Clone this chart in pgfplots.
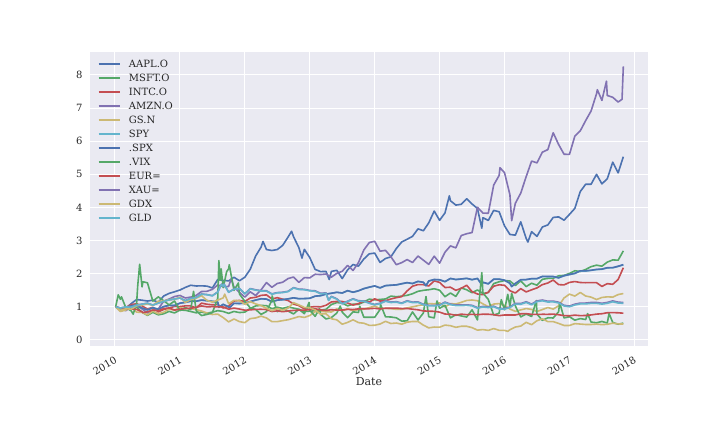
\documentclass[border=0pt]{standalone}
\usepackage{fontspec}
\setmainfont{DejaVu Serif}
\usepackage{pgfplots}
\pgfplotsset{compat=1.18}
\definecolor{cA}{HTML}{4C72B0}
\definecolor{cB}{HTML}{55A868}
\definecolor{cC}{HTML}{C44E52}
\definecolor{cD}{HTML}{8172B2}
\definecolor{cE}{HTML}{CCB974}
\definecolor{cF}{HTML}{64B5CD}
\definecolor{axbg}{HTML}{EAEAF2}
\definecolor{txt}{HTML}{262626}
\begin{document}
\begin{tikzpicture}
\path (0,0) rectangle (720bp,432bp);
\begin{axis}[
  at={(90bp,86.4bp)}, anchor=south west,
  scale only axis, width=558bp, height=293.76bp,
  xmin=2009.615, xmax=2018.21, ymin=-0.17, ymax=8.695,
  axis background/.style={fill=axbg},
  axis line style={draw=none},
  major tick length=0pt,
  grid=major, major grid style={white, line width=1bp},
  xtick={2010,2011,2012,2013,2014,2015,2016,2017,2018},
  xticklabels={2010,2011,2012,2013,2014,2015,2016,2017,2018},
  ytick={0,1,2,3,4,5,6,7,8},
  /pgf/number format/assume math mode=true,
  ticklabel style={font=\fontsize{10bp}{12bp}\selectfont, text=txt},
  xticklabel style={rotate=30, anchor=north east, inner sep=0pt, yshift=-8.4bp, xshift=-6bp},
  yticklabel style={anchor=east, inner sep=0pt, xshift=-7.3bp},
  xlabel={Date},
  xlabel style={font=\fontsize{11bp}{13bp}\selectfont, text=txt, at={(axis description cs:0.5,0)}, anchor=center, yshift=-36.4bp},
  every axis plot/.append style={line width=1.6bp, line join=round},
  legend cell align=left,
  legend style={draw=none, fill=none, at={(0,1)}, anchor=north west, xshift=7.7bp, yshift=-7.35bp,
    font=\fontsize{10bp}{12bp}\selectfont, text=txt, inner sep=0pt, row sep=4.7bp, column sep=8.5bp,
    nodes={inner sep=0pt, text height=8.3bp, text depth=1bp}},
  legend image code/.code={\draw[#1] (0bp,0bp) -- (21bp,0bp);},
]
% AAPL.O
\addplot[cA] coordinates {(2010.01,1.000)(2010.083,0.898)(2010.167,0.956)(2010.25,1.098)(2010.333,1.220)(2010.417,1.200)(2010.5,1.175)(2010.583,1.202)(2010.667,1.136)(2010.75,1.326)(2010.833,1.406)(2010.917,1.454)(2011.0,1.507)
(2011.083,1.586)(2011.167,1.651)(2011.25,1.629)(2011.333,1.633)(2011.417,1.625)(2011.5,1.569)(2011.583,1.825)(2011.667,1.799)(2011.75,1.782)(2011.833,1.892)(2011.917,1.786)(2012.0,1.893)
(2012.083,2.133)(2012.167,2.535)(2012.25,2.802)(2012.28,2.973)(2012.333,2.729)(2012.417,2.700)(2012.5,2.729)(2012.583,2.854)(2012.667,3.109)(2012.72,3.281)(2012.75,3.117)(2012.833,2.782)(2012.88,2.47)(2012.917,2.735)(2013.0,2.487)
(2013.083,2.129)(2013.167,2.063)(2013.25,2.069)(2013.30,1.825)(2013.333,2.069)(2013.417,2.102)(2013.5,1.853)(2013.583,2.115)(2013.667,2.277)(2013.75,2.228)(2013.833,2.443)(2013.917,2.599)(2014.0,2.622)
(2014.083,2.339)(2014.167,2.459)(2014.25,2.508)(2014.333,2.758)(2014.417,2.958)(2014.5,3.040)(2014.583,3.127)(2014.667,3.353)(2014.75,3.296)(2014.833,3.533)(2014.917,3.890)(2015.0,3.611)
(2015.083,3.833)(2015.15,4.351)(2015.167,4.202)(2015.25,4.070)(2015.333,4.094)(2015.417,4.262)(2015.5,4.103)(2015.583,3.968)(2015.65,3.373)(2015.667,3.689)(2015.75,3.608)(2015.833,3.909)(2015.917,3.870)(2016.0,3.443)
(2016.083,3.184)(2016.167,3.163)(2016.25,3.565)(2016.333,3.066)(2016.36,2.955)(2016.417,3.267)(2016.5,3.127)(2016.583,3.409)(2016.667,3.471)(2016.75,3.698)(2016.833,3.714)(2016.917,3.615)(2017.0,3.789)
(2017.083,3.970)(2017.167,4.481)(2017.25,4.699)(2017.333,4.699)(2017.417,4.997)(2017.5,4.711)(2017.583,4.865)(2017.667,5.365)(2017.75,5.042)(2017.83,5.530)};
\addlegendentry{AAPL.O}
% MSFT.O
\addplot[cB] coordinates {(2010.01,1.000)(2010.083,0.911)(2010.167,0.926)(2010.25,0.946)(2010.333,0.987)(2010.417,0.834)(2010.5,0.743)(2010.583,0.834)(2010.667,0.758)(2010.75,0.791)(2010.833,0.862)(2010.917,0.816)(2011.0,0.902)
(2011.083,0.896)(2011.167,0.859)(2011.25,0.820)(2011.333,0.840)(2011.417,0.808)(2011.5,0.840)(2011.583,0.885)(2011.667,0.859)(2011.75,0.804)(2011.833,0.860)(2011.917,0.827)(2012.0,0.839)
(2012.083,0.954)(2012.167,1.026)(2012.25,1.042)(2012.333,1.035)(2012.417,0.943)(2012.5,0.988)(2012.583,0.952)(2012.667,0.996)(2012.75,0.962)(2012.833,0.922)(2012.917,0.860)(2013.0,0.863)
(2013.083,0.887)(2013.167,0.898)(2013.25,0.924)(2013.333,1.069)(2013.417,1.128)(2013.5,1.116)(2013.583,1.029)(2013.667,1.079)(2013.75,1.075)(2013.833,1.144)(2013.917,1.232)(2014.0,1.209)
(2014.083,1.223)(2014.167,1.238)(2014.25,1.324)(2014.333,1.305)(2014.417,1.323)(2014.5,1.347)(2014.583,1.395)(2014.667,1.468)(2014.75,1.498)(2014.833,1.517)(2014.917,1.545)(2015.0,1.501)
(2015.083,1.305)(2015.167,1.417)(2015.25,1.314)(2015.333,1.572)(2015.417,1.514)(2015.5,1.426)(2015.583,1.509)(2015.667,1.406)(2015.75,1.430)(2015.833,1.701)(2015.917,1.756)(2016.0,1.793)
(2016.083,1.780)(2016.167,1.644)(2016.25,1.785)(2016.333,1.611)(2016.417,1.712)(2016.5,1.653)(2016.583,1.831)(2016.667,1.857)(2016.75,1.861)(2016.833,1.936)(2016.917,1.947)(2017.0,2.008)
(2017.083,2.089)(2017.167,2.067)(2017.25,2.128)(2017.333,2.212)(2017.417,2.257)(2017.5,2.227)(2017.583,2.349)(2017.667,2.416)(2017.75,2.407)(2017.83,2.688)};
\addlegendentry{MSFT.O}
% INTC.O
\addplot[cC] coordinates {(2010.01,1.000)(2010.083,0.929)(2010.167,0.983)(2010.25,1.068)(2010.333,1.093)(2010.417,1.026)(2010.5,0.932)(2010.583,0.987)(2010.667,0.846)(2010.75,0.920)(2010.833,0.961)(2010.917,1.014)(2011.0,1.007)
(2011.083,1.028)(2011.167,1.028)(2011.25,0.966)(2011.333,1.111)(2011.417,1.078)(2011.5,1.061)(2011.583,1.069)(2011.667,0.964)(2011.75,1.022)(2011.833,1.175)(2011.917,1.193)(2012.0,1.161)
(2012.083,1.265)(2012.167,1.287)(2012.25,1.346)(2012.333,1.360)(2012.417,1.238)(2012.5,1.276)(2012.583,1.231)(2012.667,1.190)(2012.75,1.085)(2012.833,1.035)(2012.917,0.937)(2013.0,0.988)
(2013.083,1.008)(2013.167,0.999)(2013.25,1.046)(2013.333,1.147)(2013.417,1.163)(2013.5,1.160)(2013.583,1.116)(2013.667,1.053)(2013.75,1.098)(2013.833,1.170)(2013.917,1.141)(2014.0,1.243)
(2014.083,1.175)(2014.167,1.186)(2014.25,1.236)(2014.333,1.278)(2014.417,1.308)(2014.5,1.480)(2014.583,1.623)(2014.667,1.672)(2014.75,1.668)(2014.833,1.629)(2014.917,1.784)(2015.0,1.738)
(2015.083,1.582)(2015.167,1.592)(2015.25,1.498)(2015.333,1.559)(2015.417,1.651)(2015.5,1.457)(2015.583,1.387)(2015.667,1.367)(2015.75,1.443)(2015.833,1.622)(2015.917,1.665)(2016.0,1.650)
(2016.083,1.486)(2016.167,1.417)(2016.25,1.549)(2016.333,1.450)(2016.417,1.513)(2016.5,1.571)(2016.583,1.670)(2016.667,1.719)(2016.75,1.808)(2016.833,1.670)(2016.917,1.662)(2017.0,1.737)
(2017.083,1.763)(2017.167,1.734)(2017.25,1.728)(2017.333,1.731)(2017.417,1.729)(2017.5,1.616)(2017.583,1.699)(2017.667,1.680)(2017.75,1.824)(2017.83,2.179)};
\addlegendentry{INTC.O}
% AMZN.O
\addplot[cD] coordinates {(2010.01,1.000)(2010.083,0.937)(2010.167,0.884)(2010.25,1.014)(2010.333,1.024)(2010.417,0.937)(2010.5,0.816)(2010.583,0.880)(2010.667,0.932)(2010.75,1.173)(2010.833,1.234)(2010.917,1.310)(2011.0,1.344)
(2011.083,1.267)(2011.167,1.294)(2011.25,1.345)(2011.333,1.462)(2011.417,1.469)(2011.5,1.527)(2011.583,1.662)(2011.667,1.607)(2011.75,1.615)(2011.79,1.842)(2011.833,1.595)(2011.917,1.436)(2012.0,1.293)
(2012.083,1.452)(2012.167,1.342)(2012.25,1.512)(2012.333,1.732)(2012.417,1.590)(2012.5,1.705)(2012.583,1.742)(2012.667,1.854)(2012.75,1.899)(2012.833,1.739)(2012.917,1.882)(2013.0,1.874)
(2013.083,1.983)(2013.167,1.974)(2013.25,1.990)(2013.333,1.896)(2013.417,2.010)(2013.5,2.074)(2013.583,2.250)(2013.667,2.098)(2013.75,2.335)(2013.833,2.715)(2013.917,2.940)(2014.0,2.978)
(2014.083,2.679)(2014.167,2.704)(2014.25,2.512)(2014.333,2.271)(2014.417,2.334)(2014.5,2.426)(2014.583,2.337)(2014.667,2.532)(2014.75,2.408)(2014.833,2.281)(2014.917,2.529)(2015.0,2.318)
(2015.083,2.648)(2015.167,2.839)(2015.25,2.779)(2015.333,3.150)(2015.417,3.206)(2015.5,3.242)(2015.583,4.004)(2015.667,3.830)(2015.75,3.823)(2015.833,4.674)(2015.917,4.965)(2015.93,5.198)(2016.0,5.048)
(2016.083,4.384)(2016.11,3.600)(2016.167,4.126)(2016.25,4.433)(2016.333,4.926)(2016.417,5.398)(2016.5,5.344)(2016.583,5.667)(2016.667,5.744)(2016.75,6.253)(2016.833,5.899)(2016.917,5.605)(2017.0,5.600)
(2017.083,6.150)(2017.167,6.311)(2017.25,6.621)(2017.333,6.908)(2017.417,7.428)(2017.43,7.551)(2017.5,7.229)(2017.57,7.81)(2017.583,7.377)(2017.667,7.323)(2017.75,7.180)(2017.81,7.262)(2017.83,8.254)};
\addlegendentry{AMZN.O}
% GS.N
\addplot[cE] coordinates {(2010.01,1.000)(2010.083,0.859)(2010.167,0.903)(2010.25,0.986)(2010.333,0.839)(2010.417,0.834)(2010.5,0.758)(2010.583,0.871)(2010.667,0.791)(2010.75,0.835)(2010.833,0.930)(2010.917,0.901)(2011.0,0.972)
(2011.083,0.945)(2011.167,0.946)(2011.25,0.916)(2011.333,0.873)(2011.417,0.813)(2011.5,0.769)(2011.583,0.780)(2011.667,0.674)(2011.75,0.546)(2011.833,0.633)(2011.917,0.554)(2012.0,0.522)
(2012.083,0.644)(2012.167,0.665)(2012.25,0.719)(2012.333,0.665)(2012.417,0.554)(2012.5,0.554)(2012.583,0.583)(2012.667,0.611)(2012.75,0.657)(2012.833,0.707)(2012.917,0.681)(2013.0,0.737)
(2013.083,0.854)(2013.167,0.866)(2013.25,0.850)(2013.333,0.844)(2013.417,0.937)(2013.5,0.874)(2013.583,0.948)(2013.667,0.879)(2013.75,0.914)(2013.833,0.929)(2013.917,0.976)(2014.0,1.024)
(2014.083,0.948)(2014.167,0.954)(2014.25,0.947)(2014.333,0.923)(2014.417,0.924)(2014.5,0.967)(2014.583,0.999)(2014.667,1.035)(2014.75,1.061)(2014.833,1.098)(2014.917,1.089)(2015.0,1.120)
(2015.083,0.996)(2015.167,1.096)(2015.25,1.086)(2015.333,1.135)(2015.417,1.192)(2015.5,1.206)(2015.583,1.185)(2015.667,1.090)(2015.75,1.004)(2015.833,1.083)(2015.917,1.098)(2016.0,1.041)
(2016.083,0.933)(2016.167,0.864)(2016.25,0.907)(2016.333,0.948)(2016.417,0.923)(2016.5,0.858)(2016.583,0.918)(2016.667,0.979)(2016.75,0.932)(2016.833,1.030)(2016.917,1.267)(2017.0,1.383)
(2017.083,1.325)(2017.167,1.433)(2017.25,1.327)(2017.333,1.293)(2017.417,1.220)(2017.5,1.282)(2017.583,1.302)(2017.667,1.293)(2017.75,1.370)(2017.83,1.401)};
\addlegendentry{GS.N}
% SPY
\addplot[cF] coordinates {(2010.01,1.000)(2010.083,0.946)(2010.167,0.973)(2010.25,1.030)(2010.333,1.045)(2010.417,0.960)(2010.5,0.908)(2010.583,0.970)(2010.667,0.924)(2010.75,1.005)(2010.833,1.042)(2010.917,1.040)(2011.0,1.108)
(2011.083,1.133)(2011.167,1.169)(2011.25,1.168)(2011.333,1.202)(2011.417,1.185)(2011.5,1.164)(2011.583,1.139)(2011.60,0.986)(2011.667,1.074)(2011.75,0.997)(2011.76,0.968)(2011.833,1.104)(2011.917,1.099)(2012.0,1.108)
(2012.083,1.156)(2012.167,1.203)(2012.25,1.241)(2012.333,1.232)(2012.417,1.155)(2012.5,1.200)(2012.583,1.215)(2012.667,1.239)(2012.75,1.270)(2012.833,1.244)(2012.917,1.248)(2013.0,1.257)
(2013.083,1.320)(2013.167,1.335)(2013.25,1.383)(2013.333,1.408)(2013.417,1.437)(2013.5,1.416)(2013.583,1.486)(2013.667,1.439)(2013.75,1.482)(2013.833,1.548)(2013.917,1.592)(2014.0,1.629)
(2014.083,1.570)(2014.167,1.638)(2014.25,1.650)(2014.333,1.660)(2014.417,1.695)(2014.5,1.727)(2014.583,1.701)(2014.667,1.765)(2014.75,1.738)(2014.79,1.637)(2014.833,1.778)(2014.917,1.822)(2015.0,1.814)
(2015.083,1.758)(2015.167,1.854)(2015.25,1.822)(2015.333,1.838)(2015.417,1.857)(2015.5,1.818)(2015.583,1.854)(2015.65,1.668)(2015.667,1.738)(2015.75,1.692)(2015.833,1.832)(2015.917,1.833)(2016.0,1.801)
(2016.083,1.708)(2016.11,1.610)(2016.167,1.701)(2016.25,1.814)(2016.333,1.819)(2016.417,1.847)(2016.5,1.848)(2016.583,1.914)(2016.667,1.912)(2016.75,1.910)(2016.833,1.873)(2016.917,1.937)(2017.0,1.972)
(2017.083,2.007)(2017.167,2.082)(2017.25,2.081)(2017.333,2.100)(2017.417,2.125)(2017.5,2.135)(2017.583,2.176)(2017.667,2.178)(2017.75,2.220)(2017.83,2.269)};
\addlegendentry{SPY}
% .SPX
\addplot[cA] coordinates {(2010.01,1.000)(2010.083,0.948)(2010.167,0.975)(2010.25,1.032)(2010.333,1.047)(2010.417,0.962)(2010.5,0.910)(2010.583,0.972)(2010.667,0.926)(2010.75,1.007)(2010.833,1.044)(2010.917,1.042)(2011.0,1.110)
(2011.083,1.135)(2011.167,1.171)(2011.25,1.170)(2011.333,1.204)(2011.417,1.187)(2011.5,1.166)(2011.583,1.141)(2011.60,0.988)(2011.667,1.076)(2011.75,0.999)(2011.76,0.970)(2011.833,1.106)(2011.917,1.101)(2012.0,1.110)
(2012.083,1.158)(2012.167,1.205)(2012.25,1.243)(2012.333,1.234)(2012.417,1.157)(2012.5,1.202)(2012.583,1.217)(2012.667,1.241)(2012.75,1.272)(2012.833,1.246)(2012.917,1.250)(2013.0,1.259)
(2013.083,1.322)(2013.167,1.337)(2013.25,1.385)(2013.333,1.410)(2013.417,1.439)(2013.5,1.418)(2013.583,1.488)(2013.667,1.441)(2013.75,1.484)(2013.833,1.550)(2013.917,1.594)(2014.0,1.631)
(2014.083,1.573)(2014.167,1.641)(2014.25,1.653)(2014.333,1.663)(2014.417,1.698)(2014.5,1.730)(2014.583,1.704)(2014.667,1.768)(2014.75,1.741)(2014.79,1.640)(2014.833,1.781)(2014.917,1.825)(2015.0,1.817)
(2015.083,1.761)(2015.167,1.857)(2015.25,1.825)(2015.333,1.841)(2015.417,1.860)(2015.5,1.821)(2015.583,1.857)(2015.65,1.671)(2015.667,1.741)(2015.75,1.695)(2015.833,1.835)(2015.917,1.836)(2016.0,1.804)
(2016.083,1.712)(2016.11,1.614)(2016.167,1.705)(2016.25,1.818)(2016.333,1.823)(2016.417,1.851)(2016.5,1.852)(2016.583,1.918)(2016.667,1.916)(2016.75,1.914)(2016.833,1.877)(2016.917,1.941)(2017.0,1.976)
(2017.083,2.011)(2017.167,2.086)(2017.25,2.085)(2017.333,2.104)(2017.417,2.129)(2017.5,2.139)(2017.583,2.180)(2017.667,2.182)(2017.75,2.224)(2017.83,2.273)};
\addlegendentry{.SPX}
% .VIX
\addplot[cB] coordinates {(2010.01,1.000)(2010.05,1.363)(2010.083,1.229)(2010.10,1.301)(2010.167,0.973)(2010.25,0.878)(2010.28,0.778)(2010.333,1.100)(2010.35,1.637)(2010.38,2.285)(2010.417,1.600)(2010.43,1.757)(2010.5,1.724)(2010.583,1.173)(2010.667,1.300)(2010.75,1.183)(2010.833,1.058)(2010.917,1.175)(2011.0,0.886)
(2011.083,0.975)(2011.167,0.916)(2011.21,1.467)(2011.25,0.885)(2011.333,0.736)(2011.417,0.771)(2011.5,0.824)(2011.583,1.260)(2011.60,2.395)(2011.62,1.80)(2011.635,2.148)(2011.667,1.578)(2011.72,2.063)(2011.75,2.144)(2011.76,2.268)(2011.833,1.495)(2011.90,1.720)(2011.917,1.387)(2012.0,1.168)
(2012.083,0.970)(2012.167,0.920)(2012.25,0.773)(2012.333,0.856)(2012.417,1.201)(2012.42,1.330)(2012.5,0.852)(2012.583,0.945)(2012.667,0.872)(2012.75,0.785)(2012.833,0.928)(2012.917,0.792)(2012.99,1.134)(2013.0,0.899)
(2013.083,0.713)(2013.15,0.948)(2013.167,0.774)(2013.25,0.634)(2013.333,0.675)(2013.417,0.813)(2013.47,1.022)(2013.5,0.841)(2013.583,0.671)(2013.667,0.849)(2013.75,0.828)(2013.77,1.015)(2013.833,0.686)(2013.917,0.684)(2014.0,0.685)
(2014.083,0.919)(2014.09,1.070)(2014.167,0.699)(2014.25,0.693)(2014.333,0.669)(2014.417,0.569)(2014.5,0.577)(2014.583,0.846)(2014.667,0.603)(2014.75,0.814)(2014.79,1.310)(2014.833,0.700)(2014.917,0.665)(2014.96,1.176)(2015.0,0.958)
(2015.083,1.046)(2015.167,0.666)(2015.25,0.763)(2015.333,0.726)(2015.417,0.691)(2015.5,0.910)(2015.583,0.605)(2015.65,2.033)(2015.667,1.419)(2015.75,1.223)(2015.833,0.752)(2015.917,0.805)(2015.95,1.217)(2016.0,0.909)
(2016.05,1.377)(2016.083,1.008)(2016.11,1.404)(2016.167,1.025)(2016.25,0.696)(2016.333,0.783)(2016.417,0.708)(2016.49,1.190)(2016.5,0.780)(2016.583,0.592)(2016.667,0.670)(2016.75,0.663)(2016.833,0.851)(2016.85,1.123)(2016.917,0.665)(2017.0,0.701)
(2017.083,0.598)(2017.167,0.645)(2017.25,0.617)(2017.28,0.796)(2017.333,0.540)(2017.417,0.519)(2017.5,0.558)(2017.583,0.512)(2017.61,0.800)(2017.667,0.528)(2017.75,0.475)(2017.83,0.508)};
\addlegendentry{.VIX}
% EUR=
\addplot[cC] coordinates {(2010.01,1.000)(2010.083,0.962)(2010.167,0.946)(2010.25,0.937)(2010.333,0.922)(2010.417,0.851)(2010.43,0.827)(2010.5,0.849)(2010.583,0.906)(2010.667,0.879)(2010.75,0.946)(2010.833,0.967)(2010.917,0.901)(2011.0,0.928)
(2011.083,0.950)(2011.167,0.958)(2011.25,0.983)(2011.333,1.028)(2011.417,0.999)(2011.5,1.006)(2011.583,0.999)(2011.667,0.996)(2011.75,0.929)(2011.833,0.962)(2011.917,0.933)(2012.0,0.899)
(2012.083,0.908)(2012.167,0.924)(2012.25,0.926)(2012.333,0.919)(2012.417,0.858)(2012.5,0.878)(2012.583,0.854)(2012.667,0.873)(2012.75,0.892)(2012.833,0.899)(2012.917,0.901)(2013.0,0.915)
(2013.083,0.942)(2013.167,0.906)(2013.25,0.890)(2013.333,0.914)(2013.417,0.902)(2013.5,0.903)(2013.583,0.923)(2013.667,0.917)(2013.75,0.939)(2013.833,0.942)(2013.917,0.943)(2014.0,0.955)
(2014.083,0.936)(2014.167,0.958)(2014.25,0.956)(2014.333,0.962)(2014.417,0.947)(2014.5,0.950)(2014.583,0.929)(2014.667,0.911)(2014.75,0.876)(2014.833,0.869)(2014.917,0.864)(2015.0,0.840)
(2015.083,0.783)(2015.167,0.777)(2015.25,0.745)(2015.333,0.779)(2015.417,0.763)(2015.5,0.774)(2015.583,0.762)(2015.667,0.778)(2015.75,0.776)(2015.833,0.763)(2015.917,0.733)(2016.0,0.754)
(2016.083,0.752)(2016.167,0.754)(2016.25,0.790)(2016.333,0.795)(2016.417,0.772)(2016.5,0.770)(2016.583,0.775)(2016.667,0.774)(2016.75,0.780)(2016.833,0.762)(2016.917,0.735)(2017.0,0.730)
(2017.083,0.749)(2017.167,0.734)(2017.25,0.739)(2017.333,0.756)(2017.417,0.780)(2017.5,0.792)(2017.583,0.822)(2017.667,0.826)(2017.75,0.820)(2017.83,0.808)};
\addlegendentry{EUR=}
% XAU=
\addplot[cD] coordinates {(2010.01,1.000)(2010.083,0.966)(2010.167,0.997)(2010.25,0.992)(2010.333,1.052)(2010.417,1.081)(2010.5,1.109)(2010.583,1.053)(2010.667,1.113)(2010.75,1.165)(2010.833,1.210)(2010.917,1.236)(2011.0,1.267)
(2011.083,1.189)(2011.167,1.257)(2011.25,1.283)(2011.333,1.387)(2011.417,1.370)(2011.5,1.337)(2011.583,1.452)(2011.64,1.685)(2011.667,1.628)(2011.68,1.690)(2011.75,1.444)(2011.833,1.536)(2011.917,1.557)(2012.0,1.395)
(2012.083,1.552)(2012.167,1.513)(2012.25,1.488)(2012.333,1.484)(2012.417,1.391)(2012.5,1.430)(2012.583,1.440)(2012.667,1.469)(2012.75,1.580)(2012.833,1.534)(2012.917,1.527)(2013.0,1.494)
(2013.083,1.483)(2013.167,1.407)(2013.25,1.423)(2013.29,1.204)(2013.333,1.316)(2013.417,1.242)(2013.5,1.100)(2013.583,1.170)(2013.667,1.244)(2013.75,1.183)(2013.833,1.180)(2013.917,1.117)(2014.0,1.072)
(2014.083,1.109)(2014.167,1.182)(2014.25,1.145)(2014.333,1.155)(2014.417,1.115)(2014.5,1.183)(2014.583,1.143)(2014.667,1.148)(2014.75,1.079)(2014.833,1.045)(2014.917,1.041)(2015.0,1.056)
(2015.083,1.144)(2015.167,1.082)(2015.25,1.055)(2015.333,1.055)(2015.417,1.061)(2015.5,1.045)(2015.583,0.976)(2015.667,1.011)(2015.75,0.994)(2015.833,1.018)(2015.917,0.950)(2016.0,0.946)
(2016.083,0.997)(2016.167,1.104)(2016.25,1.099)(2016.333,1.154)(2016.417,1.083)(2016.5,1.179)(2016.583,1.205)(2016.667,1.167)(2016.75,1.173)(2016.833,1.139)(2016.917,1.046)(2017.0,1.022)
(2017.083,1.080)(2017.167,1.114)(2017.25,1.114)(2017.333,1.131)(2017.417,1.132)(2017.5,1.107)(2017.583,1.132)(2017.667,1.179)(2017.75,1.141)(2017.83,1.132)};
\addlegendentry{XAU=}
% GDX
\addplot[cE] coordinates {(2010.01,1.000)(2010.083,0.893)(2010.167,0.941)(2010.25,0.931)(2010.333,1.029)(2010.417,1.058)(2010.5,1.089)(2010.583,1.044)(2010.667,1.172)(2010.75,1.172)(2010.833,1.217)(2010.917,1.228)(2011.0,1.289)
(2011.083,1.132)(2011.167,1.220)(2011.25,1.259)(2011.333,1.337)(2011.417,1.193)(2011.5,1.144)(2011.583,1.203)(2011.667,1.270)(2011.69,1.383)(2011.75,1.094)(2011.833,1.195)(2011.917,1.184)(2012.0,1.078)
(2012.083,1.157)(2012.167,1.088)(2012.25,1.038)(2012.333,0.958)(2012.417,0.882)(2012.5,0.949)(2012.583,0.897)(2012.667,0.962)(2012.75,1.126)(2012.833,1.058)(2012.917,0.985)(2013.0,0.972)
(2013.083,0.903)(2013.167,0.780)(2013.25,0.793)(2013.333,0.639)(2013.417,0.608)(2013.5,0.475)(2013.583,0.530)(2013.667,0.608)(2013.75,0.524)(2013.833,0.505)(2013.917,0.442)(2014.0,0.443)
(2014.083,0.482)(2014.167,0.562)(2014.25,0.497)(2014.333,0.511)(2014.417,0.476)(2014.5,0.536)(2014.583,0.558)(2014.667,0.558)(2014.75,0.447)(2014.833,0.365)(2014.917,0.390)(2015.0,0.385)
(2015.083,0.449)(2015.167,0.430)(2015.25,0.382)(2015.333,0.413)(2015.417,0.413)(2015.5,0.372)(2015.583,0.296)(2015.667,0.314)(2015.75,0.288)(2015.833,0.344)(2015.917,0.291)(2016.0,0.288)
(2016.05,0.261)(2016.083,0.308)(2016.167,0.390)(2016.25,0.419)(2016.333,0.532)(2016.417,0.461)(2016.5,0.581)(2016.583,0.639)(2016.667,0.553)(2016.75,0.554)(2016.833,0.499)(2016.917,0.438)(2017.0,0.438)
(2017.083,0.493)(2017.167,0.480)(2017.25,0.467)(2017.333,0.467)(2017.417,0.478)(2017.5,0.464)(2017.583,0.472)(2017.667,0.507)(2017.75,0.484)(2017.83,0.481)};
\addlegendentry{GDX}
% GLD
\addplot[cF] coordinates {(2010.01,1.000)(2010.083,0.965)(2010.167,0.996)(2010.25,0.991)(2010.333,1.051)(2010.417,1.080)(2010.5,1.108)(2010.583,1.052)(2010.667,1.112)(2010.75,1.164)(2010.833,1.209)(2010.917,1.235)(2011.0,1.266)
(2011.083,1.184)(2011.167,1.252)(2011.25,1.278)(2011.333,1.381)(2011.417,1.365)(2011.5,1.332)(2011.583,1.446)(2011.64,1.678)(2011.667,1.621)(2011.68,1.683)(2011.75,1.438)(2011.833,1.530)(2011.917,1.551)(2012.0,1.389)
(2012.083,1.541)(2012.167,1.502)(2012.25,1.478)(2012.333,1.474)(2012.417,1.381)(2012.5,1.420)(2012.583,1.430)(2012.667,1.459)(2012.75,1.569)(2012.833,1.523)(2012.917,1.516)(2013.0,1.484)
(2013.083,1.468)(2013.167,1.393)(2013.25,1.409)(2013.29,1.192)(2013.333,1.303)(2013.417,1.230)(2013.5,1.089)(2013.583,1.158)(2013.667,1.232)(2013.75,1.171)(2013.833,1.168)(2013.917,1.106)(2014.0,1.061)
(2014.083,1.095)(2014.167,1.167)(2014.25,1.130)(2014.333,1.140)(2014.417,1.101)(2014.5,1.168)(2014.583,1.128)(2014.667,1.133)(2014.75,1.065)(2014.833,1.031)(2014.917,1.027)(2015.0,1.042)
(2015.083,1.126)(2015.167,1.065)(2015.25,1.038)(2015.333,1.038)(2015.417,1.044)(2015.5,1.028)(2015.583,0.960)(2015.667,0.995)(2015.75,0.978)(2015.833,1.002)(2015.917,0.935)(2016.0,0.931)
(2016.083,0.978)(2016.167,1.083)(2016.25,1.078)(2016.333,1.132)(2016.417,1.062)(2016.5,1.157)(2016.583,1.182)(2016.667,1.145)(2016.75,1.151)(2016.833,1.117)(2016.917,1.026)(2017.0,1.003)
(2017.083,1.055)(2017.167,1.088)(2017.25,1.088)(2017.333,1.105)(2017.417,1.106)(2017.5,1.082)(2017.583,1.106)(2017.667,1.152)(2017.75,1.115)(2017.83,1.106)};
\addlegendentry{GLD}
\end{axis}
\end{tikzpicture}
\end{document}
